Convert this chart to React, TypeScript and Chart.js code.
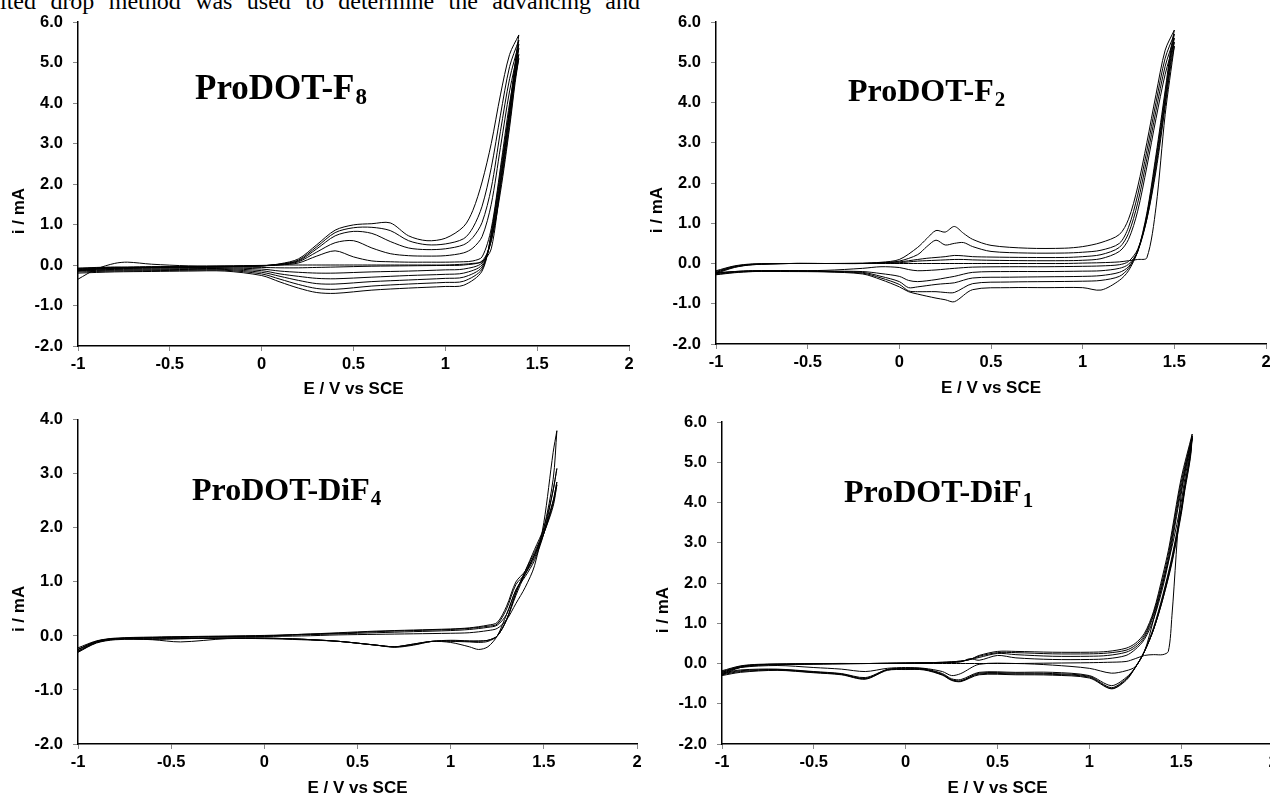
import React, { useEffect, useRef } from 'react';
import { Chart, registerables } from 'chart.js';

Chart.register(...registerables);

// ---------- shared tick values ----------
const X_TICKS = [-1, -0.5, 0, 0.5, 1, 1.5, 2];
const Y_TICKS_TOP = [-2, -1, 0, 1, 2, 3, 4, 5, 6];
const Y_TICKS_DIF4 = [-2, -1, 0, 1, 2, 3, 4];

// ---------- ProDOT-F8 (top left) ----------
const F8_E_FWD = [-1, -0.9, -0.8, -0.73, -0.6, -0.4, -0.2, 0, 0.1, 0.2, 0.3, 0.4, 0.5, 0.6, 0.7, 0.8, 0.9, 1.0, 1.1, 1.15, 1.2, 1.25, 1.3, 1.35, 1.4];
const F8_FWD_1 = [-0.35, -0.1, 0.04, 0.07, 0.02, -0.02, -0.02, -0.01, 0.0, 0.0, 0.0, 0.0, 0.0, 0.0, 0.0, 0.0, 0.0, 0.0, 0.02, 0.04, 0.08, 0.4, 2.0, 3.8, 5.1];
const F8_FWD_2 = [-0.08, -0.06, -0.05, -0.05, -0.04, -0.04, -0.03, -0.02, 0.0, 0.05, 0.22, 0.35, 0.2, 0.1, 0.08, 0.07, 0.07, 0.07, 0.08, 0.1, 0.2, 0.9, 2.4, 4.0, 5.2];
const F8_FWD_3 = [-0.1, -0.07, -0.06, -0.06, -0.05, -0.05, -0.04, -0.02, 0.01, 0.08, 0.32, 0.55, 0.6, 0.42, 0.28, 0.23, 0.22, 0.23, 0.3, 0.42, 0.7, 1.5, 2.9, 4.3, 5.35];
const F8_FWD_4 = [-0.12, -0.08, -0.07, -0.06, -0.06, -0.05, -0.04, -0.02, 0.02, 0.1, 0.4, 0.72, 0.83, 0.78, 0.58, 0.42, 0.38, 0.4, 0.5, 0.68, 1.05, 1.9, 3.3, 4.6, 5.45];
const F8_FWD_5 = [-0.14, -0.09, -0.08, -0.07, -0.06, -0.05, -0.04, -0.02, 0.02, 0.12, 0.45, 0.8, 0.92, 0.93, 0.85, 0.6, 0.5, 0.52, 0.65, 0.92, 1.45, 2.4, 3.7, 4.9, 5.55];
const F8_FWD_6 = [-0.15, -0.1, -0.08, -0.07, -0.06, -0.05, -0.04, -0.02, 0.03, 0.15, 0.5, 0.86, 0.99, 1.02, 1.04, 0.72, 0.6, 0.66, 0.95, 1.35, 2.05, 3.0, 4.2, 5.2, 5.68];
const F8_E_REV = [1.4, 1.38, 1.35, 1.3, 1.25, 1.2, 1.1, 1.0, 0.8, 0.6, 0.4, 0.3, 0.2, 0.1, 0, -0.2, -0.4, -0.6, -0.8, -1];
const F8_REV_1 = [5.1, 4.5, 3.4, 1.8, 0.6, 0.1, 0.0, -0.01, -0.02, -0.03, -0.05, -0.06, -0.07, -0.07, -0.06, -0.05, -0.05, -0.06, -0.07, -0.08];
const F8_REV_2 = [5.2, 4.6, 3.5, 1.9, 0.6, 0.05, -0.1, -0.12, -0.15, -0.17, -0.2, -0.2, -0.18, -0.15, -0.1, -0.07, -0.07, -0.08, -0.09, -0.1];
const F8_REV_3 = [5.35, 4.7, 3.6, 2.0, 0.65, 0.0, -0.2, -0.23, -0.26, -0.3, -0.34, -0.33, -0.28, -0.22, -0.14, -0.09, -0.09, -0.1, -0.11, -0.12];
const F8_REV_4 = [5.45, 4.8, 3.7, 2.1, 0.7, -0.05, -0.3, -0.33, -0.37, -0.41, -0.47, -0.46, -0.38, -0.28, -0.18, -0.11, -0.11, -0.12, -0.13, -0.14];
const F8_REV_5 = [5.55, 4.9, 3.8, 2.2, 0.75, -0.1, -0.4, -0.43, -0.47, -0.52, -0.6, -0.58, -0.48, -0.35, -0.22, -0.13, -0.13, -0.14, -0.15, -0.17];
const F8_REV_6 = [5.68, 5.0, 3.9, 2.3, 0.8, -0.15, -0.5, -0.53, -0.57, -0.62, -0.7, -0.68, -0.57, -0.42, -0.26, -0.15, -0.15, -0.16, -0.17, -0.2];

// ---------- ProDOT-F2 (top right) ----------
const F2_E_FWD = [-1, -0.9, -0.8, -0.6, -0.4, -0.2, -0.1, 0, 0.1, 0.15, 0.2, 0.25, 0.3, 0.35, 0.4, 0.5, 0.7, 0.9, 1.0, 1.1, 1.2, 1.25, 1.3, 1.35, 1.4, 1.45, 1.5];
const F2_FWD_1 = [-0.25, -0.1, -0.03, 0.0, 0.0, 0.0, 0.0, 0.0, 0.0, 0.0, 0.0, 0.0, 0.0, 0.0, 0.0, 0.0, 0.0, 0.0, 0.01, 0.02, 0.04, 0.07, 0.1, 0.14, 1.4, 3.7, 5.4];
const F2_FWD_2 = [-0.23, -0.09, -0.03, 0.0, 0.0, 0.0, 0.01, 0.02, 0.06, 0.07, 0.08, 0.09, 0.1, 0.1, 0.09, 0.08, 0.07, 0.07, 0.08, 0.12, 0.3, 0.6, 1.3, 2.4, 3.6, 4.7, 5.5];
const F2_FWD_3 = [-0.22, -0.08, -0.02, 0.0, 0.0, 0.0, 0.02, 0.04, 0.1, 0.13, 0.15, 0.17, 0.2, 0.19, 0.17, 0.16, 0.15, 0.15, 0.17, 0.22, 0.4, 0.75, 1.5, 2.6, 3.8, 4.9, 5.6];
const F2_FWD_4 = [-0.2, -0.07, -0.02, 0.0, 0.0, 0.0, 0.02, 0.06, 0.22, 0.42, 0.58, 0.46, 0.5, 0.52, 0.42, 0.3, 0.26, 0.26, 0.28, 0.33, 0.5, 0.9, 1.7, 2.8, 4.0, 5.1, 5.7];
const F2_FWD_5 = [-0.18, -0.06, -0.01, 0.0, 0.0, 0.01, 0.03, 0.1, 0.4, 0.62, 0.82, 0.78, 0.92, 0.75, 0.6, 0.45, 0.38, 0.38, 0.42, 0.52, 0.72, 1.1, 1.9, 3.0, 4.2, 5.3, 5.8];
const F2_E_REV = [1.5, 1.48, 1.45, 1.4, 1.35, 1.3, 1.25, 1.2, 1.1, 1.0, 0.8, 0.6, 0.4, 0.3, 0.25, 0.2, 0.1, 0.05, 0, -0.1, -0.2, -0.4, -0.6, -0.8, -0.9, -1];
const F2_REV_1 = [5.4, 4.9, 3.9, 2.3, 1.1, 0.35, 0.05, -0.03, -0.06, -0.07, -0.08, -0.08, -0.09, -0.12, -0.14, -0.16, -0.18, -0.15, -0.1, -0.08, -0.12, -0.17, -0.18, -0.18, -0.2, -0.23];
const F2_REV_2 = [5.5, 5.0, 4.0, 2.4, 1.1, 0.3, -0.02, -0.12, -0.18, -0.19, -0.2, -0.2, -0.22, -0.32, -0.36, -0.4, -0.45, -0.42, -0.32, -0.25, -0.2, -0.19, -0.18, -0.18, -0.2, -0.24];
const F2_REV_3 = [5.6, 5.1, 4.1, 2.5, 1.15, 0.3, -0.08, -0.22, -0.3, -0.32, -0.33, -0.34, -0.36, -0.48, -0.5, -0.52, -0.58, -0.6, -0.45, -0.32, -0.22, -0.2, -0.18, -0.19, -0.21, -0.25];
const F2_REV_4 = [5.7, 5.2, 4.2, 2.6, 1.2, 0.3, -0.12, -0.32, -0.42, -0.44, -0.45, -0.46, -0.5, -0.72, -0.72, -0.7, -0.7, -0.68, -0.52, -0.36, -0.24, -0.2, -0.19, -0.2, -0.22, -0.27];
const F2_REV_5 = [5.8, 5.3, 4.3, 2.7, 1.25, 0.3, -0.18, -0.42, -0.66, -0.6, -0.6, -0.6, -0.65, -0.95, -0.9, -0.86, -0.76, -0.7, -0.58, -0.4, -0.26, -0.21, -0.2, -0.2, -0.23, -0.28];

// ---------- ProDOT-DiF4 (bottom left) ----------
const DIF4_E_FWD = [-1, -0.9, -0.8, -0.6, -0.4, -0.2, 0, 0.2, 0.4, 0.6, 0.8, 1.0, 1.1, 1.2, 1.25, 1.3, 1.35, 1.4, 1.45, 1.5, 1.55, 1.57];
const DIF4_FWD_1 = [-0.3, -0.12, -0.06, -0.03, -0.02, -0.02, -0.01, 0.0, 0.02, 0.03, 0.04, 0.05, 0.06, 0.1, 0.14, 0.3, 0.6, 0.9, 1.3, 2.1, 3.4, 3.8];
const DIF4_FWD_2 = [-0.28, -0.11, -0.05, -0.03, -0.02, -0.01, 0.0, 0.02, 0.04, 0.06, 0.08, 0.1, 0.12, 0.16, 0.2, 0.4, 0.85, 1.1, 1.4, 1.9, 2.7, 3.1];
const DIF4_FWD_3 = [-0.25, -0.1, -0.05, -0.03, -0.02, -0.01, 0.0, 0.03, 0.05, 0.08, 0.1, 0.12, 0.14, 0.18, 0.22, 0.5, 0.95, 1.15, 1.45, 1.9, 2.5, 2.85];
const DIF4_FWD_4 = [-0.22, -0.09, -0.04, -0.02, -0.01, 0.0, 0.01, 0.03, 0.06, 0.09, 0.11, 0.13, 0.15, 0.2, 0.25, 0.55, 1.0, 1.2, 1.5, 1.9, 2.45, 2.8];
const DIF4_E_REV = [1.57, 1.55, 1.5, 1.45, 1.4, 1.35, 1.3, 1.25, 1.2, 1.15, 1.1, 1.0, 0.9, 0.8, 0.7, 0.6, 0.4, 0.2, 0, -0.2, -0.45, -0.6, -0.8, -0.9, -1];
const DIF4_REV_1 = [3.8, 2.9, 2.0, 1.5, 1.15, 0.85, 0.4, 0.0, -0.2, -0.25, -0.2, -0.12, -0.1, -0.15, -0.2, -0.17, -0.1, -0.07, -0.05, -0.05, -0.11, -0.07, -0.05, -0.1, -0.25];
const DIF4_REV_2 = [3.1, 2.7, 2.0, 1.6, 1.2, 0.8, 0.3, 0.0, -0.1, -0.12, -0.11, -0.1, -0.1, -0.15, -0.2, -0.17, -0.1, -0.06, -0.04, -0.04, -0.05, -0.05, -0.05, -0.1, -0.25];
const DIF4_REV_3 = [2.85, 2.5, 1.95, 1.55, 1.2, 0.8, 0.3, 0.0, -0.08, -0.1, -0.1, -0.09, -0.1, -0.16, -0.2, -0.17, -0.1, -0.06, -0.04, -0.04, -0.05, -0.06, -0.06, -0.12, -0.28];
const DIF4_REV_4 = [2.8, 2.4, 1.9, 1.5, 1.15, 0.75, 0.3, 0.0, -0.08, -0.09, -0.09, -0.08, -0.1, -0.17, -0.21, -0.17, -0.1, -0.06, -0.04, -0.04, -0.05, -0.06, -0.07, -0.13, -0.3];

// ---------- ProDOT-DiF1 (bottom right) ----------
const DIF1_E_FWD = [-1, -0.9, -0.8, -0.6, -0.4, -0.2, 0, 0.2, 0.3, 0.35, 0.4, 0.5, 0.6, 0.8, 1.0, 1.1, 1.2, 1.25, 1.3, 1.35, 1.4, 1.43, 1.45, 1.5, 1.56];
const DIF1_FWD_1 = [-0.28, -0.1, -0.04, -0.02, -0.01, 0.0, 0.0, 0.0, 0.0, 0.0, 0.0, 0.0, 0.0, 0.01, 0.02, 0.03, 0.05, 0.12, 0.2, 0.22, 0.22, 0.3, 1.2, 4.2, 5.6];
const DIF1_FWD_2 = [-0.25, -0.09, -0.04, -0.02, -0.01, 0.0, 0.01, 0.02, 0.04, 0.12, 0.08, 0.2, 0.14, 0.1, 0.1, 0.12, 0.2, 0.35, 0.6, 1.1, 1.9, 2.5, 3.0, 4.3, 5.6];
const DIF1_FWD_3 = [-0.22, -0.08, -0.03, -0.01, 0.0, 0.0, 0.01, 0.02, 0.05, 0.1, 0.15, 0.25, 0.22, 0.18, 0.18, 0.2, 0.28, 0.4, 0.65, 1.2, 2.0, 2.6, 3.1, 4.4, 5.65];
const DIF1_FWD_4 = [-0.2, -0.07, -0.03, -0.01, 0.0, 0.0, 0.01, 0.03, 0.06, 0.1, 0.18, 0.27, 0.27, 0.24, 0.24, 0.26, 0.33, 0.45, 0.7, 1.25, 2.1, 2.7, 3.2, 4.5, 5.65];
const DIF1_FWD_5 = [-0.18, -0.06, -0.02, -0.01, 0.0, 0.0, 0.01, 0.03, 0.06, 0.1, 0.2, 0.3, 0.3, 0.28, 0.28, 0.3, 0.38, 0.5, 0.75, 1.3, 2.2, 2.8, 3.3, 4.6, 5.7];
const DIF1_E_REV = [1.56, 1.55, 1.52, 1.5, 1.45, 1.4, 1.35, 1.3, 1.25, 1.2, 1.12, 1.0, 0.8, 0.6, 0.4, 0.3, 0.25, 0.2, 0.1, 0, -0.1, -0.22, -0.35, -0.5, -0.7, -0.9, -1];
const DIF1_REV_1 = [5.6, 5.3, 4.6, 4.0, 2.9, 2.0, 1.1, 0.3, -0.08, -0.18, -0.24, -0.12, -0.04, 0.0, -0.02, -0.25, -0.3, -0.2, -0.12, -0.1, -0.12, -0.2, -0.14, -0.1, -0.05, -0.1, -0.22];
const DIF1_REV_2 = [5.6, 5.1, 4.3, 3.7, 2.5, 1.6, 0.85, 0.3, -0.1, -0.35, -0.55, -0.3, -0.22, -0.22, -0.22, -0.4, -0.38, -0.25, -0.13, -0.12, -0.15, -0.35, -0.25, -0.2, -0.14, -0.16, -0.24];
const DIF1_REV_3 = [5.65, 5.15, 4.35, 3.75, 2.55, 1.6, 0.85, 0.3, -0.1, -0.38, -0.6, -0.32, -0.25, -0.24, -0.24, -0.43, -0.4, -0.27, -0.14, -0.13, -0.15, -0.37, -0.26, -0.21, -0.15, -0.18, -0.26];
const DIF1_REV_4 = [5.65, 5.2, 4.4, 3.8, 2.6, 1.65, 0.85, 0.3, -0.1, -0.4, -0.62, -0.34, -0.27, -0.26, -0.26, -0.44, -0.41, -0.28, -0.15, -0.14, -0.16, -0.38, -0.27, -0.22, -0.16, -0.2, -0.28];
const DIF1_REV_5 = [5.7, 5.25, 4.45, 3.85, 2.65, 1.7, 0.9, 0.3, -0.1, -0.42, -0.63, -0.36, -0.29, -0.28, -0.28, -0.45, -0.42, -0.29, -0.16, -0.15, -0.17, -0.39, -0.28, -0.23, -0.17, -0.22, -0.3];

type Cycle = { fwd: number[]; rev: number[] };
type PanelCfg = {
  name: string; sub: string;
  eFwd: number[]; eRev: number[]; cycles: Cycle[];
  yTicks: number[];
  left: number; top: number; w: number; h: number;
  yAxisW: number; xAxisH: number; padTop: number; padRight: number;
  titleDx: number; titleDy: number; titleSize: number; xTitlePad: number;
};

const PANELS: PanelCfg[] = [
  {
    name: 'ProDOT-F', sub: '8', eFwd: F8_E_FWD, eRev: F8_E_REV,
    cycles: [
      { fwd: F8_FWD_1, rev: F8_REV_1 }, { fwd: F8_FWD_2, rev: F8_REV_2 }, { fwd: F8_FWD_3, rev: F8_REV_3 },
      { fwd: F8_FWD_4, rev: F8_REV_4 }, { fwd: F8_FWD_5, rev: F8_REV_5 }, { fwd: F8_FWD_6, rev: F8_REV_6 },
    ],
    yTicks: Y_TICKS_TOP,
    left: 0, top: 0, w: 640, h: 400, yAxisW: 78, xAxisH: 54, padTop: 22, padRight: 11,
    titleDx: 117, titleDy: 77, titleSize: 35, xTitlePad: 0,
  },
  {
    name: 'ProDOT-F', sub: '2', eFwd: F2_E_FWD, eRev: F2_E_REV,
    cycles: [
      { fwd: F2_FWD_1, rev: F2_REV_1 }, { fwd: F2_FWD_2, rev: F2_REV_2 }, { fwd: F2_FWD_3, rev: F2_REV_3 },
      { fwd: F2_FWD_4, rev: F2_REV_4 }, { fwd: F2_FWD_5, rev: F2_REV_5 },
    ],
    yTicks: Y_TICKS_TOP,
    left: 640, top: 0, w: 660, h: 400, yAxisW: 76, xAxisH: 56, padTop: 22, padRight: 34,
    titleDx: 132, titleDy: 79, titleSize: 32, xTitlePad: 1,
  },
  {
    name: 'ProDOT-DiF', sub: '4', eFwd: DIF4_E_FWD, eRev: DIF4_E_REV,
    cycles: [
      { fwd: DIF4_FWD_1, rev: DIF4_REV_1 }, { fwd: DIF4_FWD_2, rev: DIF4_REV_2 },
      { fwd: DIF4_FWD_3, rev: DIF4_REV_3 }, { fwd: DIF4_FWD_4, rev: DIF4_REV_4 },
    ],
    yTicks: Y_TICKS_DIF4,
    left: 0, top: 400, w: 660, h: 400, yAxisW: 78, xAxisH: 56, padTop: 16, padRight: 23,
    titleDx: 114, titleDy: 80, titleSize: 32, xTitlePad: 1,
  },
  {
    name: 'ProDOT-DiF', sub: '1', eFwd: DIF1_E_FWD, eRev: DIF1_E_REV,
    cycles: [
      { fwd: DIF1_FWD_1, rev: DIF1_REV_1 }, { fwd: DIF1_FWD_2, rev: DIF1_REV_2 }, { fwd: DIF1_FWD_3, rev: DIF1_REV_3 },
      { fwd: DIF1_FWD_4, rev: DIF1_REV_4 }, { fwd: DIF1_FWD_5, rev: DIF1_REV_5 },
    ],
    yTicks: Y_TICKS_TOP,
    left: 640, top: 400, w: 660, h: 400, yAxisW: 82, xAxisH: 56, padTop: 22, padRight: 27,
    titleDx: 122, titleDy: 80, titleSize: 32, xTitlePad: 1,
  },
];

const SANS = '"Liberation Sans", Arial, sans-serif';
const SERIF = '"Liberation Serif", "Times New Roman", serif';

const labelPlugin = {
  id: 'cvLabels',
  afterDraw(chart: any, _args: any, opts: any) {
    const { ctx, chartArea } = chart;
    ctx.save();
    ctx.fillStyle = '#000';
    ctx.textAlign = 'left';
    ctx.textBaseline = 'alphabetic';
    const x0 = chartArea.left + opts.dx;
    const y0 = chartArea.top + opts.dy;
    ctx.font = `bold ${opts.size}px ${SERIF}`;
    ctx.fillText(opts.name, x0, y0);
    const w = ctx.measureText(opts.name).width;
    ctx.font = `bold ${Math.round(opts.size * 0.66)}px ${SERIF}`;
    ctx.fillText(opts.sub, x0 + w + 1, y0 + 5);
    ctx.font = `bold 17px ${SANS}`;
    ctx.translate(chartArea.left - 59, (chartArea.top + chartArea.bottom) / 2 + 27);
    ctx.rotate(-Math.PI / 2);
    ctx.textAlign = 'center';
    ctx.textBaseline = 'middle';
    ctx.fillText('i / mA', 0, 0);
    ctx.restore();
  },
};

function CvPanel({ cfg }: { cfg: PanelCfg }) {
  const ref = useRef<HTMLCanvasElement>(null);
  useEffect(() => {
    if (!ref.current) return;
    const datasets = cfg.cycles.map((cy) => ({
      data: [
        ...cfg.eFwd.map((x, i) => ({ x, y: cy.fwd[i] })),
        ...cfg.eRev.map((x, i) => ({ x, y: cy.rev[i] })),
      ],
      showLine: true,
      borderColor: '#000',
      borderWidth: 1,
      pointRadius: 0,
      pointHoverRadius: 0,
      tension: 0.3,
      fill: false,
    }));
    const tickFont = { family: SANS, size: 16.5, weight: 'bold' as const };
    const chart = new Chart(ref.current, {
      type: 'scatter',
      data: { datasets },
      plugins: [labelPlugin],
      options: {
        responsive: false,
        animation: false,
        events: [],
        layout: { padding: { top: cfg.padTop, right: cfg.padRight, left: 0, bottom: 0 } },
        plugins: {
          legend: { display: false },
          tooltip: { enabled: false },
          cvLabels: { name: cfg.name, sub: cfg.sub, dx: cfg.titleDx, dy: cfg.titleDy, size: cfg.titleSize },
        } as any,
        scales: {
          x: {
            type: 'linear',
            position: 'bottom',
            min: -1,
            max: 2,
            afterBuildTicks: (s: any) => { s.ticks = X_TICKS.map((v) => ({ value: v })); },
            afterFit: (s: any) => { s.height = cfg.xAxisH; },
            ticks: { color: '#000', font: tickFont, padding: 4, maxRotation: 0, autoSkip: false, callback: (v: any) => String(v) },
            grid: { drawOnChartArea: false, drawTicks: true, tickLength: 5, color: '#888' },
            border: { display: true, color: '#000', width: 1.5 },
            title: { display: true, text: 'E / V vs SCE', color: '#000', font: { family: SANS, size: 17, weight: 'bold' }, padding: { top: 0, bottom: cfg.xTitlePad } },
          },
          y: {
            type: 'linear',
            min: cfg.yTicks[0],
            max: cfg.yTicks[cfg.yTicks.length - 1],
            afterBuildTicks: (s: any) => { s.ticks = cfg.yTicks.map((v) => ({ value: v })); },
            afterFit: (s: any) => { s.width = cfg.yAxisW; },
            ticks: { color: '#000', font: tickFont, padding: 10, autoSkip: false, callback: (v: any) => Number(v).toFixed(1) },
            grid: { drawOnChartArea: false, drawTicks: true, tickLength: 5, color: '#888' },
            border: { display: true, color: '#000', width: 1.5 },
          },
        },
      },
    });
    return () => chart.destroy();
  }, [cfg]);
  return (
    <canvas
      ref={ref}
      width={cfg.w}
      height={cfg.h}
      style={{ position: 'absolute', left: cfg.left, top: cfg.top, width: cfg.w, height: cfg.h, display: 'block' }}
    />
  );
}

export default function App() {
  return (
    <div style={{ position: 'fixed', left: 0, top: 0, width: 1270, height: 800, overflow: 'hidden', background: '#fff' }}>
      <div
        style={{
          position: 'absolute', left: 0, top: -11, width: 640,
          fontFamily: SERIF, fontSize: 24, lineHeight: '24px', color: '#000',
          textAlign: 'justify', textAlignLast: 'justify' as any,
        }}
      >
        ited drop method was used to determine the advancing and
      </div>
      {PANELS.map((p, i) => <CvPanel key={i} cfg={p} />)}
    </div>
  );
}
